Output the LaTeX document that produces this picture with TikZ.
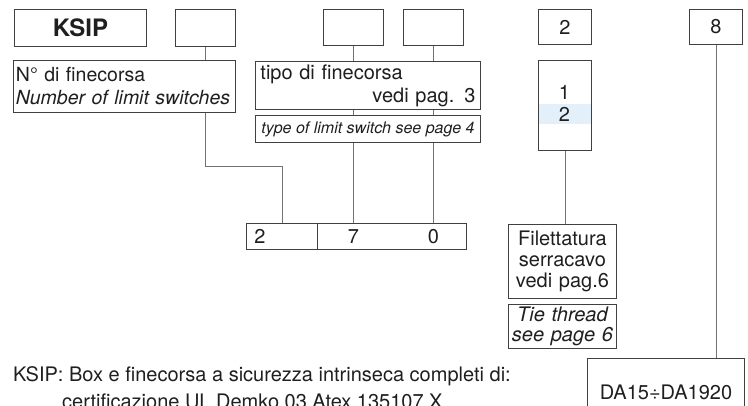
\documentclass[tikz,border=0pt]{standalone}
\usepackage{fontspec}
\setmainfont{TeX Gyre Heros}
\usepackage{tikz}
\usetikzlibrary{positioning}
\definecolor{boxline}{gray}{0.25}
\definecolor{wirecol}{gray}{0.45}
\definecolor{ink}{gray}{0.12}
\definecolor{selband}{HTML}{E3F0F9}

\begin{document}
\begin{tikzpicture}[x=1pt,y=-1pt,
	box/.style={draw=boxline,line width=0.9pt,fill=white,inner sep=0pt,anchor=north west,text=ink,font=\fontsize{20}{23}\selectfont},
	txt/.style={inner sep=0pt,text=ink,font=\fontsize{20}{23}\selectfont},
	wire/.style={draw=wirecol,line width=0.9pt}]
	\useasboundingbox (0,0) rectangle (748,405);

	\node[box,minimum width=132pt,minimum height=37pt,font=\fontsize{24}{28}\bfseries\selectfont] (ksip) at (14,9) {KSIP};
	\node[box,minimum width=60pt,minimum height=37pt] (c1) at (175,9) {};
	\node[box,minimum width=60pt,minimum height=36pt] (c2) at (323,9) {};
	\node[box,minimum width=60pt,minimum height=36pt] (c3) at (403,9) {};
	\node[box,minimum width=53pt,minimum height=35pt] (c4) at (538,9) {2};
	\node[box,minimum width=53pt,minimum height=35pt] (c5) at (689,9) {8};

	\node[box,minimum height=52pt,inner xsep=2.5pt,text width=217pt,align=left,font=\fontsize{19.5}{23}\selectfont] (nlim) at (13,60)
		{N° di finecorsa\\\mbox{\itshape Number of limit switches}};
	\node[box,minimum height=48pt,inner xsep=5pt,text width=215pt,align=left] (tipo) at (255,61)
		{tipo di finecorsa\\\mbox{}\hspace{0pt plus 1filll}vedi pag. 3};
	\node[box,minimum width=225pt,minimum height=27pt,font=\fontsize{16}{18}\itshape\selectfont] (type) at (255,115)
		{type of limit switch see page 4};

	\node[box,minimum width=53pt,minimum height=90pt] (sel) at (538,60) {};
	\node[txt] (one) at (564.5,92) {1};
	\node[txt,fill=selband,minimum width=52pt,minimum height=20pt] (two) at (564.5,114) {2};

	\node[box,minimum width=71pt,minimum height=26pt,inner xsep=8pt,text width=55pt,align=left] (codea) at (246,223) {2};
	\node[box,minimum width=149pt,minimum height=26pt] (codeb) at (317,223) {};

	\node[box,minimum width=108pt,minimum height=74pt,text width=108pt,align=center,font=\fontsize{20}{21}\selectfont] (filet) at (508,224)
		{Filettatura\\serracavo\\vedi pag.6};
	\node[box,minimum width=108pt,minimum height=44pt,text width=108pt,align=center,font=\fontsize{20}{20}\itshape\selectfont] (tie) at (508,304)
		{Tie thread\\see page 6};
	\node[box,minimum width=157pt,minimum height=68pt] (da) at (587,358) {DA15÷DA1920};

	\node[txt,anchor=base west] (note) at (13,381) {KSIP: Box e finecorsa a sicurezza intrinseca completi di:};
	\node[txt,anchor=base west] (note2) at (62,408) {certificazione UL Demko 03 Atex 135107 X};

	\coordinate (bend) at (282,166);
	\draw[wire] (c1.south) -- (c1.south |- nlim.north);
	\draw[wire] (nlim.south -| c1.south) |- (bend) -- (bend |- codea.north);
	\foreach \c/\d [count=\i] in {c2/7,c3/0} {
		\draw[wire] (\c.south) -- (\c.south |- tipo.north);
		\draw[wire] (\c.south |- tipo.south) -- (\c.south |- type.north);
		\draw[wire] (\c.south |- type.south) -- (\c.south |- codeb.north);
		\node[txt] (digit\i) at (\c.south |- codeb) {\d};
	}
	\draw[wire] (sel.south) -- (sel.south |- filet.north);
	\draw[wire] (c5.south) -- (c5.south |- da.north);
\end{tikzpicture}
\end{document}
